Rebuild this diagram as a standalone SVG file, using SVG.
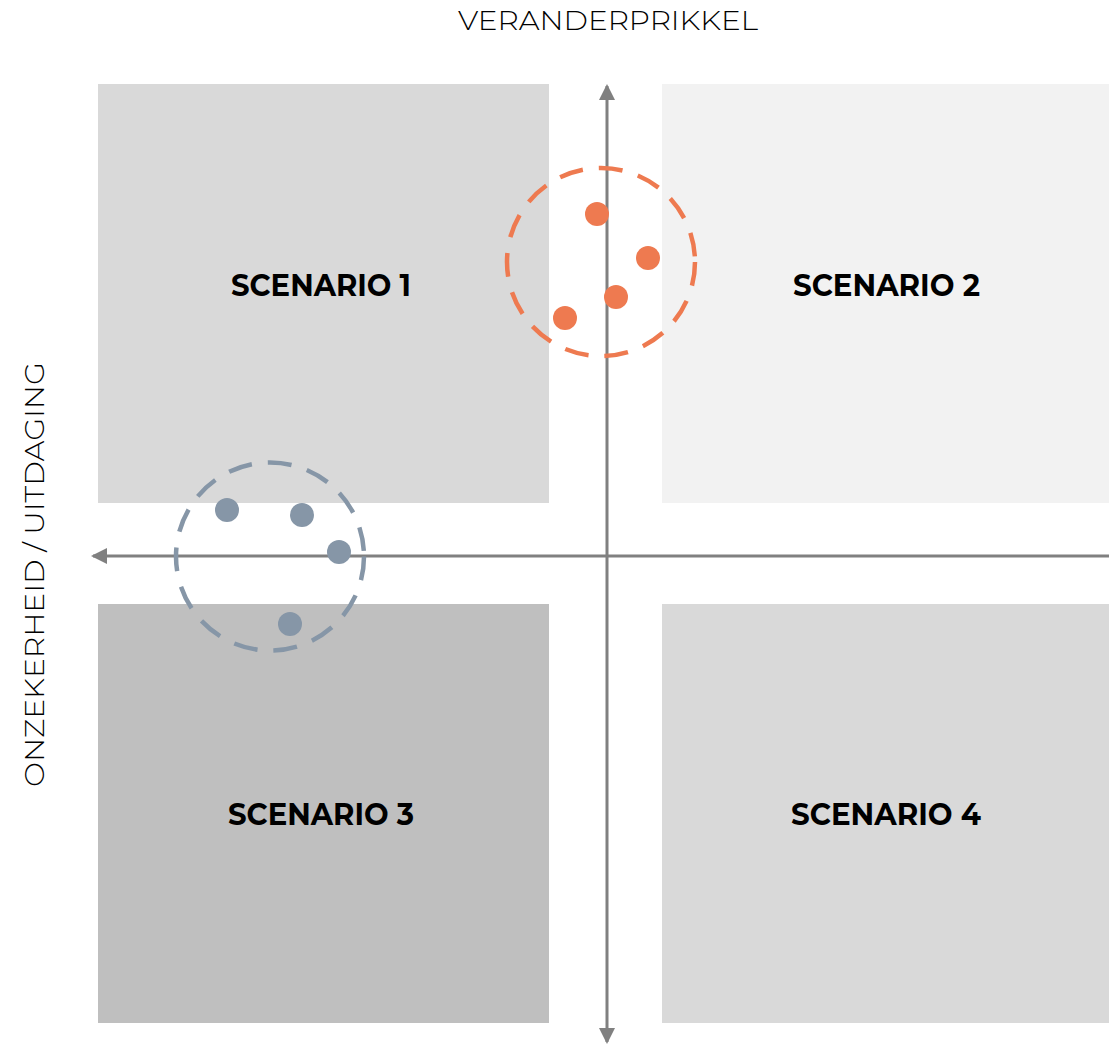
<svg xmlns="http://www.w3.org/2000/svg" width="1109" height="1044" viewBox="0 0 1109 1044">
<style>
.lbl{font-family:Montserrat,"Open Sans","Liberation Sans",sans-serif;font-weight:700;font-size:30px;fill:#000;text-anchor:middle}
.axl{font-family:Montserrat,"Open Sans","Liberation Sans",sans-serif;font-weight:300;font-size:27px;fill:#000;text-anchor:middle}
.axis{stroke:#808080;stroke-width:3;fill:none}
.ring{fill:none;stroke-width:4.5;stroke-dasharray:24 16}
</style>
<defs>
<marker id="arr" viewBox="0 0 16 16" refX="14" refY="8" markerWidth="16" markerHeight="16" markerUnits="userSpaceOnUse" orient="auto">
<path d="M0,0 L16,8 L0,16 Z" fill="#808080"/>
</marker>
</defs>
<rect width="1109" height="1044" fill="#fff"/>
<g id="scenario1"><rect x="98" y="84" width="451" height="419" fill="#d9d9d9"/><text class="lbl" x="321" y="296" textLength="180" lengthAdjust="spacingAndGlyphs">SCENARIO 1</text></g>
<g id="scenario2"><rect x="662" y="84" width="447" height="419" fill="#f2f2f2"/><text class="lbl" x="886.5" y="296" textLength="187" lengthAdjust="spacingAndGlyphs">SCENARIO 2</text></g>
<g id="scenario3"><rect x="98" y="604" width="451" height="419" fill="#bfbfbf"/><text class="lbl" x="321" y="825" textLength="186" lengthAdjust="spacingAndGlyphs">SCENARIO 3</text></g>
<g id="scenario4"><rect x="662" y="604" width="447" height="419" fill="#d9d9d9"/><text class="lbl" x="886" y="825" textLength="190" lengthAdjust="spacingAndGlyphs">SCENARIO 4</text></g>
<g id="connectors">
<line class="axis" x1="607" y1="556" x2="607" y2="86" marker-end="url(#arr)"/>
<line class="axis" x1="607" y1="556" x2="607" y2="1042" marker-end="url(#arr)"/>
<line class="axis" x1="607" y1="556" x2="93" y2="556" marker-end="url(#arr)"/>
<line class="axis" x1="607" y1="556" x2="1109" y2="556"/>
</g>
<g id="axis-labels">
<text class="axl" x="608" y="30" textLength="300" lengthAdjust="spacingAndGlyphs">VERANDERPRIKKEL</text>
<text class="axl" transform="translate(44,574.5) rotate(-90)" x="0" y="0" textLength="425" lengthAdjust="spacingAndGlyphs">ONZEKERHEID / UITDAGING</text>
</g>
<g id="cluster-orange">
<circle class="ring" cx="601" cy="262" r="94" stroke="#ee7a50"/>
<g fill="#ee7a50">
<circle cx="597" cy="214" r="12"/>
<circle cx="648" cy="258" r="12"/>
<circle cx="616" cy="297" r="12"/>
<circle cx="565" cy="318" r="12"/>
</g>
</g>
<g id="cluster-grey">
<circle class="ring" cx="270" cy="556.5" r="94" stroke="#8696a7"/>
<g fill="#8696a7">
<circle cx="227" cy="510" r="12"/>
<circle cx="302" cy="515" r="12"/>
<circle cx="339" cy="552" r="12"/>
<circle cx="290" cy="624" r="12"/>
</g>
</g>
</svg>
